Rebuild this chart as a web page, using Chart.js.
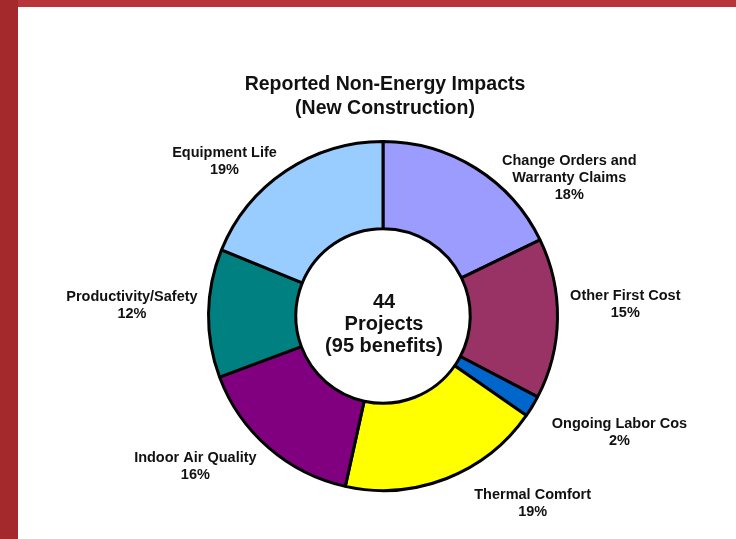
<!DOCTYPE html>
<html>
<head>
<meta charset="utf-8">
<script src="https://cdn.jsdelivr.net/npm/chart.js@4"></script>
<style>
  html, body { margin: 0; padding: 0; background: #ffffff; }
  #wrap { position: relative; width: 736px; height: 539px; overflow: hidden; background: #ffffff; }
  #c { position: absolute; left: 0; top: 0; }
  .bar-top { position: absolute; left: 0; top: 0; width: 736px; height: 7px; background: #b8353a; }
  .bar-left { position: absolute; left: 0; top: 0; width: 18px; height: 539px; background: #a4292d; }
</style>
</head>
<body>
<div id="wrap">
  <canvas id="c" width="736" height="539"></canvas>
  <div class="bar-top"></div>
  <div class="bar-left"></div>
</div>
<script>
// ---- data ----
const titleLines = ['Reported Non-Energy Impacts', '(New Construction)'];
const centerLines = ['44', 'Projects', '(95 benefits)'];
const categories = [
  'Change Orders and\nWarranty Claims',
  'Other First Cost',
  'Ongoing Labor Cos',
  'Thermal Comfort',
  'Indoor Air Quality',
  'Productivity/Safety',
  'Equipment Life'
];
const percentValues = [18, 15, 2, 19, 16, 12, 19];
const sliceColors = ['#9c9cff', '#993366', '#0066cc', '#ffff00', '#800080', '#008080', '#99ccff'];

// ---- label layout (angle shift from slice middle, distance in outer radii) ----
const labelAngleShift = [21.3, -3.6, -5.0, -17.2, 10.2, 1.5, -11.8];
const labelDistance = [1.33, 1.39, 1.51, 1.375, 1.38, 1.44, 1.27];

const FONT = '"Liberation Sans", Arial, Helvetica, sans-serif';

const textPlugin = {
  id: 'textPlugin',
  afterDraw(chart) {
    const ctx = chart.ctx;
    const meta = chart.getDatasetMeta(0);
    ctx.save();
    ctx.fillStyle = '#111111';
    ctx.textAlign = 'center';
    ctx.textBaseline = 'middle';

    // title
    ctx.font = 'bold 19.5px ' + FONT;
    titleLines.forEach((t, i) => ctx.fillText(t, 385, 85 + i * 24));

    const arc0 = meta.data[0];
    const cx = arc0.x, cy = arc0.y, R = arc0.outerRadius;

    // center text
    ctx.font = 'bold 20px ' + FONT;
    const lh = 22;
    centerLines.forEach((t, i) => ctx.fillText(t, cx + 1, cy + 8 + (i - (centerLines.length - 1) / 2) * lh));

    // slice labels
    ctx.font = 'bold 14.5px ' + FONT;
    meta.data.forEach((arc, i) => {
      const mid = (arc.startAngle + arc.endAngle) / 2 + labelAngleShift[i] * Math.PI / 180;
      const d = R * labelDistance[i];
      const x = cx + Math.cos(mid) * d;
      const y = cy + Math.sin(mid) * d;
      const lines = categories[i].split('\n').concat([percentValues[i] + '%']);
      const llh = 17;
      lines.forEach((t, j) => ctx.fillText(t, x, y + (j - (lines.length - 1) / 2) * llh));
    });
    ctx.restore();
  }
};

new Chart(document.getElementById('c'), {
  type: 'doughnut',
  data: {
    labels: categories,
    datasets: [{
      data: percentValues,
      backgroundColor: sliceColors,
      borderColor: '#000000',
      borderWidth: 3,
      hoverOffset: 0
    }]
  },
  options: {
    responsive: false,
    animation: false,
    events: [],
    cutout: '50%',
    layout: { padding: { left: 207, top: 140, right: 177, bottom: 47 } },
    plugins: {
      legend: { display: false },
      title: { display: false },
      tooltip: { enabled: false }
    }
  },
  plugins: [textPlugin]
});
</script>
</body>
</html>
